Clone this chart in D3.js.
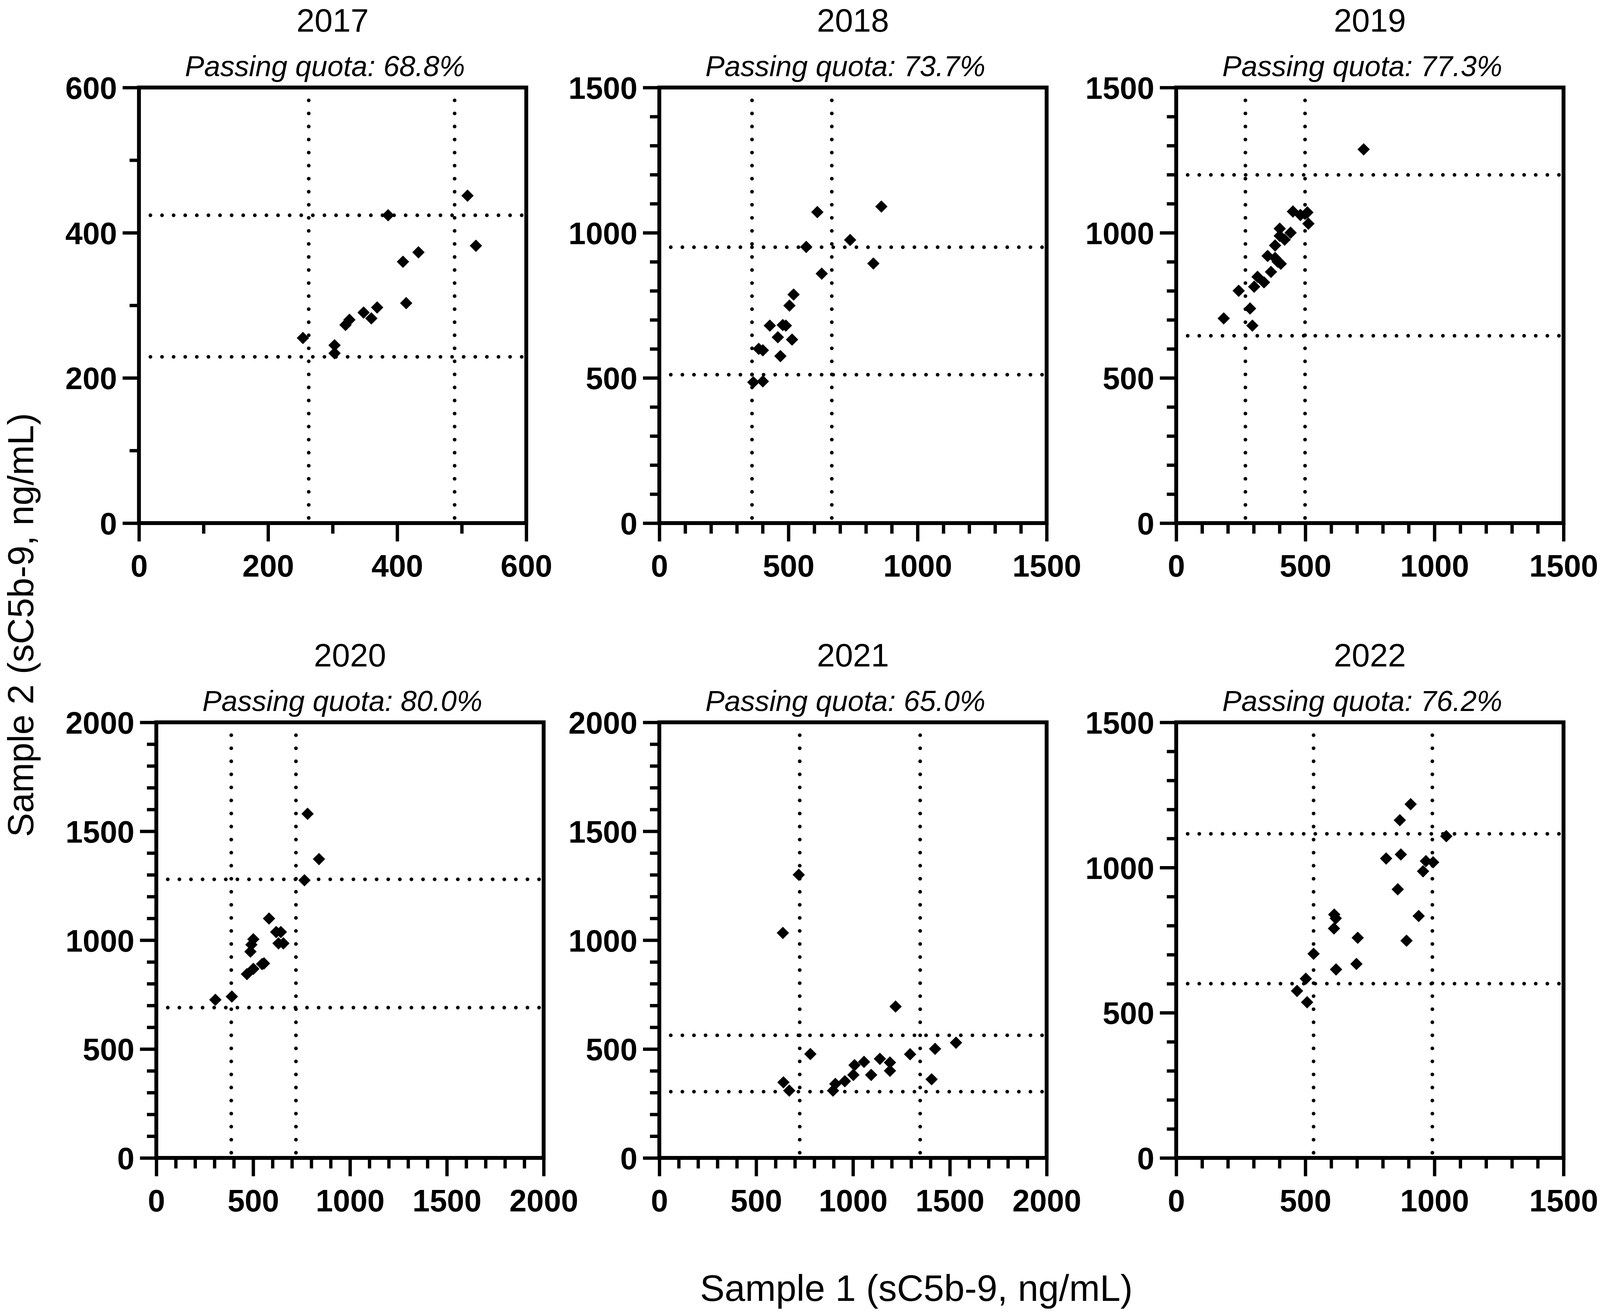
<!DOCTYPE html>
<html>
<head>
<meta charset="utf-8">
<script src="https://cdn.jsdelivr.net/npm/d3@7"></script>
<style>
  html, body { margin: 0; padding: 0; background: #fff; width: 100%; height: 100%; overflow: hidden; }
  svg { display: block; }
</style>
</head>
<body>
<div id="chart"></div>
<script>
// ---------------- data ----------------
var years = ["2017", "2018", "2019", "2020", "2021", "2022"];
var quotas = ["68.8%", "73.7%", "77.3%", "80.0%", "65.0%", "76.2%"];
var axisMax = [600, 1500, 1500, 2000, 2000, 1500];
var majorStep = [200, 500, 500, 500, 500, 500];
var minorStep = [100, 100, 100, 100, 100, 100];
// acceptance limits (dotted lines), [low, high]
var limitsX = [[263, 489], [359, 668], [268, 499], [387, 721], [725, 1347], [532, 992]];
var limitsY = [[229, 424], [511, 950], [645, 1199], [690, 1279], [304, 563], [600, 1116]];

var s1_2017 = [254, 303, 303, 320, 326, 348, 360, 369, 386, 409, 414, 433, 509, 522];
var s2_2017 = [255, 245, 234, 273, 280, 290, 282, 297, 424, 360, 303, 373, 451, 382];

var s1_2018 = [364, 401, 385, 401, 428, 459, 469, 478, 490, 504, 520, 514, 569, 612, 629, 739, 829, 860];
var s2_2018 = [485, 488, 600, 595, 680, 640, 575, 682, 680, 749, 787, 632, 951, 1071, 859, 975, 894, 1090];

var s1_2019 = [184, 242, 286, 295, 302, 315, 340, 367, 354, 383, 393, 405, 383, 401, 401, 420, 443, 452, 481, 508, 512, 726];
var s2_2019 = [705, 800, 739, 680, 814, 848, 829, 865, 920, 913, 900, 893, 956, 1014, 989, 976, 1000, 1073, 1061, 1070, 1031, 1287];

var s1_2020 = [305, 390, 468, 501, 546, 556, 486, 491, 501, 582, 619, 643, 631, 656, 765, 781, 840];
var s2_2020 = [726, 741, 844, 868, 890, 893, 947, 979, 1004, 1099, 1037, 1037, 985, 985, 1275, 1580, 1372];

var s1_2021 = [638, 720, 641, 671, 780, 897, 909, 958, 1002, 1008, 1057, 1094, 1139, 1191, 1191, 1220, 1295, 1406, 1424, 1532];
var s2_2021 = [1033, 1300, 347, 309, 477, 309, 340, 352, 381, 426, 441, 381, 455, 438, 400, 695, 476, 361, 501, 529];

var s1_2022 = [468, 502, 507, 532, 612, 618, 611, 619, 698, 703, 813, 866, 870, 858, 892, 908, 939, 956, 967, 995, 1046];
var s2_2022 = [575, 617, 536, 703, 838, 825, 790, 649, 668, 758, 1031, 1163, 1045, 925, 748, 1218, 833, 987, 1022, 1018, 1108];

var sample1 = [s1_2017, s1_2018, s1_2019, s1_2020, s1_2021, s1_2022];
var sample2 = [s2_2017, s2_2018, s2_2019, s2_2020, s2_2021, s2_2022];

// ---------------- layout ----------------
// layout is worked out on a 4606x3361 sheet, then spread over the real viewport;
// text and markers keep their proportions
var BASE_W = 4606, BASE_H = 3361;
var width = window.innerWidth || BASE_W,
    height = window.innerHeight || BASE_H;
var sx = width / BASE_W, sy = height / BASE_H, fs = (sx + sy) / 2;

var plotSize = 1115;
var lefts = [400, 1898, 3386, 450, 1898, 3386];
var tops = [224, 224, 224, 1849, 1849, 1849];
var FONT = "'Liberation Sans', Arial, Helvetica, sans-serif";

var svg = d3.select("#chart").append("svg")
    .attr("width", width)
    .attr("height", height);

svg.append("rect").attr("width", width).attr("height", height).attr("fill", "#fff");

var diamond = d3.symbol().type(d3.symbolSquare).size(560 * fs * fs);

function styleAxis(sel) {
    sel.select(".domain").remove();
    sel.selectAll(".tick line")
        .attr("stroke", "#000")
        .attr("stroke-width", 9 * fs);
    sel.selectAll(".tick text")
        .attr("fill", "#000")
        .attr("font-family", FONT)
        .attr("font-weight", "bold")
        .attr("font-size", 84 * fs);
}

function drawPanel(i) {
    var pw = plotSize * sx, ph = plotSize * sy;
    var g = svg.append("g")
        .attr("transform", "translate(" + lefts[i] * sx + "," + tops[i] * sy + ")");

    var x = d3.scaleLinear().domain([0, axisMax[i]]).range([0, pw]);
    var y = d3.scaleLinear().domain([0, axisMax[i]]).range([ph, 0]);

    var majors = d3.range(0, axisMax[i] + 1, majorStep[i]);
    var minors = d3.range(0, axisMax[i] + 1, minorStep[i]).filter(function(v) {
        return v % majorStep[i] !== 0;
    });

    // minor ticks (no labels)
    g.append("g")
        .attr("transform", "translate(0," + ph + ")")
        .call(d3.axisBottom(x).tickValues(minors).tickSize(27 * sy).tickSizeOuter(0).tickFormat(""))
        .call(styleAxis);
    g.append("g")
        .call(d3.axisLeft(y).tickValues(minors).tickSize(27 * sx).tickSizeOuter(0).tickFormat(""))
        .call(styleAxis);

    // major ticks
    g.append("g")
        .attr("transform", "translate(0," + ph + ")")
        .call(d3.axisBottom(x).tickValues(majors).tickSize(47 * sy).tickPadding(34 * sy).tickSizeOuter(0).tickFormat(d3.format("d")))
        .call(styleAxis);
    g.append("g")
        .call(d3.axisLeft(y).tickValues(majors).tickSize(47 * sx).tickPadding(16 * sx).tickSizeOuter(0).tickFormat(d3.format("d")))
        .call(styleAxis)
        .selectAll("text").attr("dy", "0.36em");

    // dotted acceptance limits
    var dots = g.append("g")
        .attr("stroke", "#000")
        .attr("stroke-width", 10 * fs)
        .attr("stroke-linecap", "round");
    limitsX[i].forEach(function(v) {
        dots.append("line")
            .attr("stroke-dasharray", "0 " + 33.4 * sy)
            .attr("x1", x(v)).attr("x2", x(v))
            .attr("y1", 33 * sy).attr("y2", ph);
    });
    limitsY[i].forEach(function(v) {
        dots.append("line")
            .attr("stroke-dasharray", "0 " + 33.4 * sx)
            .attr("x1", 33 * sx).attr("x2", pw)
            .attr("y1", y(v)).attr("y2", y(v));
    });

    // frame
    g.append("rect")
        .attr("width", pw)
        .attr("height", ph)
        .attr("fill", "none")
        .attr("stroke", "#000")
        .attr("stroke-width", 10.5 * fs);

    // points
    g.append("g")
        .selectAll("path")
        .data(d3.range(sample1[i].length))
        .enter()
        .append("path")
        .attr("d", diamond)
        .attr("fill", "#000")
        .attr("transform", function(k) {
            return "translate(" + x(sample1[i][k]) + "," + y(sample2[i][k]) + ") rotate(45)";
        });

    // titles
    g.append("text")
        .attr("x", pw / 2)
        .attr("y", -143 * sy)
        .attr("text-anchor", "middle")
        .attr("font-family", FONT)
        .attr("font-size", 88 * fs)
        .text(years[i]);
    g.append("text")
        .attr("x", pw / 2 - 22 * sx)
        .attr("y", -29 * sy)
        .attr("text-anchor", "middle")
        .attr("font-family", FONT)
        .attr("font-style", "italic")
        .attr("font-size", 78 * fs)
        .text("Passing quota: " + quotas[i]);
}

for (var i = 0; i < years.length; i++) {
    drawPanel(i);
}

// shared axis titles
svg.append("text")
    .attr("transform", "translate(" + 96 * sx + "," + 1600 * sy + ") rotate(-90)")
    .attr("text-anchor", "middle")
    .attr("font-family", FONT)
    .attr("font-size", 98 * fs)
    .text("Sample 2 (sC5b-9, ng/mL)");

svg.append("text")
    .attr("x", 2638 * sx)
    .attr("y", 3330 * sy)
    .attr("text-anchor", "middle")
    .attr("font-family", FONT)
    .attr("font-size", 100 * fs)
    .text("Sample 1 (sC5b-9, ng/mL)");
</script>
</body>
</html>
